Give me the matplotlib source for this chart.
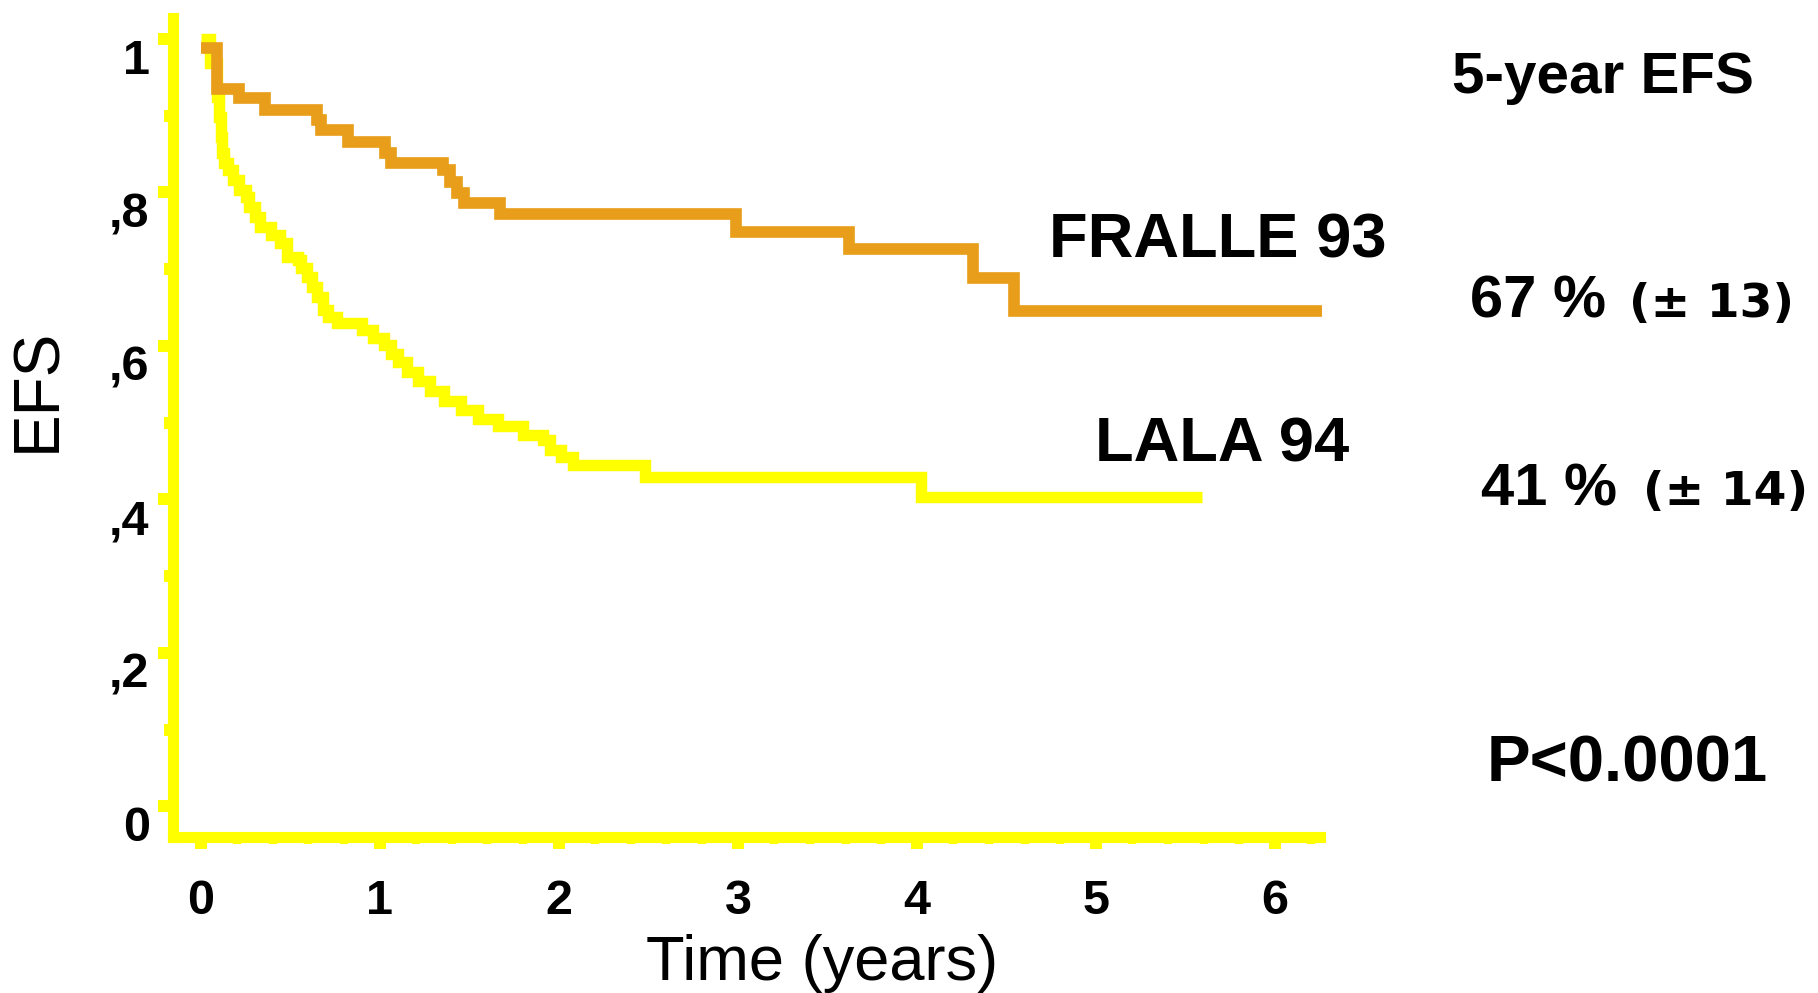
import matplotlib
matplotlib.use('Agg')
import matplotlib.pyplot as plt
from matplotlib.ticker import MultipleLocator

# Kaplan-Meier steps (time in years, EFS)
fralle_time = [0.00, 0.09, 0.21, 0.36, 0.65, 0.67, 0.82, 1.03, 1.06, 1.35, 1.39, 1.43,
               1.47, 1.67, 2.99, 3.62, 4.31, 4.54, 6.26]
fralle_efs = [0.988, 0.935, 0.923, 0.907, 0.895, 0.881, 0.866, 0.851, 0.838, 0.829, 0.814, 0.799,
              0.786, 0.772, 0.748, 0.726, 0.688, 0.645, 0.645]

lala_time = [0.00, 0.05, 0.09, 0.10, 0.11, 0.12, 0.13, 0.15, 0.18, 0.21, 0.25, 0.27,
             0.30, 0.33, 0.39, 0.44, 0.48, 0.54, 0.56, 0.59, 0.62, 0.65, 0.68, 0.71,
             0.76, 0.90, 0.96, 1.02, 1.06, 1.10, 1.15, 1.21, 1.28, 1.36, 1.45, 1.55,
             1.66, 1.80, 1.91, 1.95, 2.01, 2.08, 2.48, 4.02, 5.59]
lala_efs = [1.000, 0.969, 0.924, 0.898, 0.872, 0.851, 0.838, 0.829, 0.816, 0.803, 0.794, 0.781,
            0.768, 0.755, 0.744, 0.734, 0.716, 0.712, 0.701, 0.690, 0.677, 0.664, 0.647, 0.638,
            0.630, 0.621, 0.610, 0.601, 0.590, 0.579, 0.566, 0.554, 0.541, 0.528, 0.516, 0.505,
            0.495, 0.484, 0.477, 0.464, 0.455, 0.445, 0.429, 0.403, 0.403]

y_ticks = [0, 0.2, 0.4, 0.6, 0.8, 1.0]
y_tick_labels = ['0', ',2', ',4', ',6', ',8', '1']
x_ticks = [0, 1, 2, 3, 4, 5, 6]

YELLOW = '#FFFF00'
ORANGE = '#E89E1A'
W, H = 1818, 993

plt.rcParams['font.family'] = ['Liberation Sans', 'DejaVu Sans']


def fig_xy(x, y):
    """pixel position (from top-left) -> figure fraction"""
    return x / W, 1 - y / H


fig = plt.figure(figsize=(W / 100, H / 100), dpi=100)
ax = fig.add_axes([173 / W, 1 - 837 / H, (1320 - 173) / W, (837 - 17.5) / H])
ax.set_xlim(-0.156, 6.25)
ax.set_ylim(-0.040, 1.028)

ax.plot(lala_time, lala_efs, drawstyle='steps-post', color=YELLOW, lw=8.2,
        solid_joinstyle='miter', solid_capstyle='butt', clip_on=False, zorder=3)
ax.plot(fralle_time, fralle_efs, drawstyle='steps-post', color=ORANGE, lw=8.4,
        solid_joinstyle='miter', solid_capstyle='butt', clip_on=False, zorder=4)

# axes in yellow, only left and bottom
for side in ['top', 'right']:
    ax.spines[side].set_visible(False)
for side in ['left', 'bottom']:
    ax.spines[side].set_color(YELLOW)
    ax.spines[side].set_linewidth(8.0)
    ax.spines[side].set_capstyle('projecting')

ax.set_yticks(y_ticks, y_tick_labels, fontweight='bold', va='top')
ax.set_yticks([0.1, 0.3, 0.5, 0.7, 0.9], minor=True)
ax.set_xticks(x_ticks, [str(v) for v in x_ticks], fontweight='bold')
ax.xaxis.set_minor_locator(MultipleLocator(0.2))

ax.tick_params(axis='y', which='major', length=10.8, width=8.6, color=YELLOW, pad=6, labelsize=35)
ax.tick_params(axis='y', which='minor', length=6.5, width=8.6, color=YELLOW)
ax.tick_params(axis='x', which='major', length=8.6, width=8.6, color=YELLOW, pad=22, labelsize=35)
ax.tick_params(axis='x', which='minor', length=5, width=6, color=YELLOW)

ax.set_ylabel('EFS', fontsize=46, va='center')
ax.yaxis.set_label_coords((38 - 173) / 1147, (837 - 390) / 819.5)
ax.set_xlabel('Time (years)', fontsize=45.5, va='baseline')
ax.xaxis.set_label_coords((822 - 173) / 1147, (837 - 980) / 819.5)

# annotations
fig.text(*fig_xy(1452, 93), '5-year EFS', fontsize=42, fontweight='bold', va='baseline')
fig.text(*fig_xy(1049, 257), 'FRALLE 93', fontsize=45.5, fontweight='bold', va='baseline')
fig.text(*fig_xy(1095, 461), 'LALA 94', fontsize=45.5, fontweight='bold', va='baseline')
fig.text(*fig_xy(1470, 318), '67 %', fontsize=43, fontweight='bold', va='baseline')
fig.text(*fig_xy(1629, 317), '(± 13)', fontsize=34, fontweight='bold', va='baseline',
         family=['DejaVu Sans'])
fig.text(*fig_xy(1481, 505), '41 %', fontsize=43, fontweight='bold', va='baseline')
fig.text(*fig_xy(1643, 505), '(± 14)', fontsize=34, fontweight='bold', va='baseline',
         family=['DejaVu Sans'])
fig.text(*fig_xy(1487, 782), 'P<0.0001', fontsize=47, fontweight='bold', va='baseline')

fig.savefig('out.png', dpi=100)
